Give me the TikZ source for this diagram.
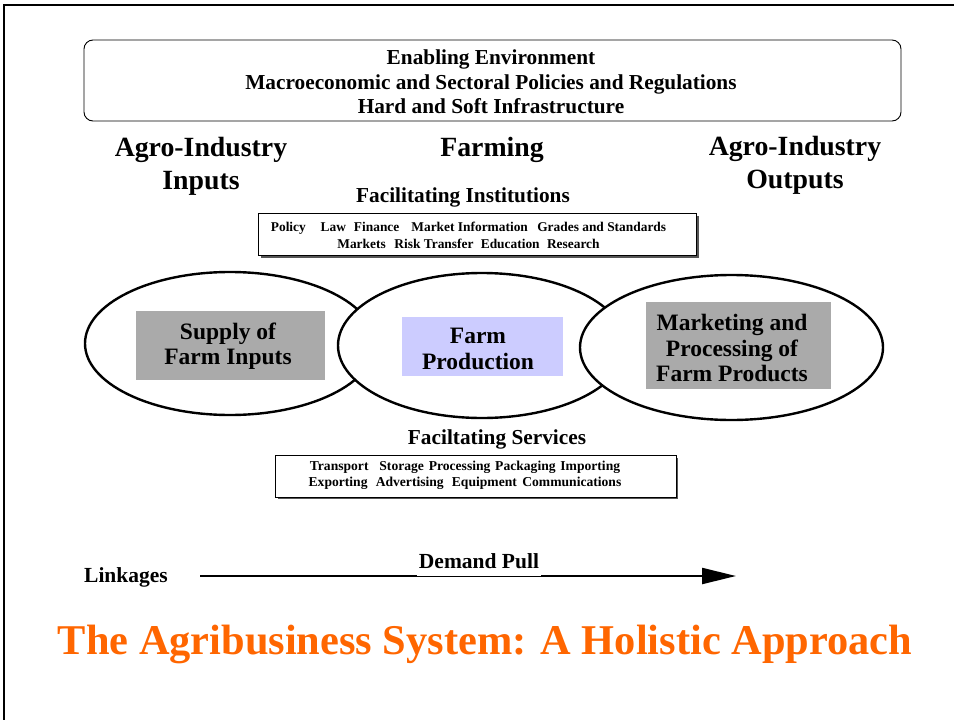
\documentclass[tikz,border=0pt]{standalone}
\usepackage{fontspec}
\setmainfont{Liberation Serif}
\usetikzlibrary{shapes.geometric,arrows.meta}
\definecolor{boxgray}{HTML}{AAAAAA}
\definecolor{lav}{HTML}{CCCCFF}
\definecolor{titleorange}{HTML}{FF6600}
\definecolor{shadowgray}{HTML}{555555}
\begin{document}
\begin{tikzpicture}[x=1pt,y=-1pt,
  bf/.style={font=\bfseries\fontsize{#1}{24}\selectfont},
  oval/.style={draw, ellipse, fill=white, line width=2.4pt, inner sep=0pt},
  inbox/.style={fill=#1, inner sep=0pt, align=center, font=\bfseries\fontsize{23.5}{25.5}\selectfont},
  listbox/.style={draw, fill=white, line width=0.9pt, inner sep=0pt, align=center},
  hdr/.style={align=center, font=\bfseries\fontsize{27.8}{33}\selectfont}
]
\useasboundingbox (0,0) rectangle (954,720);
\fill[white] (0,0) rectangle (954,720);
% frame
\draw[line width=1.5pt] (4,720) -- (4,5) -- (954,5);

% enabling environment
\node[draw, rounded corners=9pt, line width=0.9pt, minimum width=817pt, minimum height=81pt, inner sep=0pt] (env) at (492.5,80.5) {};
\node[align=center, font=\bfseries\fontsize{21.3}{24.5}\selectfont] (envtext) at (491,82)
  {Enabling Environment\\Macroeconomic and Sectoral Policies and Regulations\\Hard and Soft Infrastructure};

% headers
\node[hdr] (hin) at (201,166.5) {Agro-Industry\\Inputs};
\node[hdr] (hfarm) at (492,149.5) {Farming};
\node[hdr] (hout) at (795,165.5) {Agro-Industry\\Outputs};

% facilitating institutions
\node[bf=21.3] (fi) at (463,197) {Facilitating Institutions};
\fill[shadowgray] (261,216) rectangle (699,258);
\node[listbox, minimum width=438pt, minimum height=42pt] (fibox) at (477.5,234.5) {};
\node[align=center, font=\bfseries\fontsize{13.4}{17}\selectfont] (fitext) at (468.5,235)
  {Policy\hspace{1.1em}Law\hspace{0.6em}Finance\hspace{0.9em}Market Information\hspace{0.7em}Grades and Standards\\
   Markets\hspace{0.65em}Risk Transfer\hspace{0.55em}Education\hspace{0.55em}Research};

% ovals
\node[oval, minimum width=290pt, minimum height=143pt] (o1) at (230,343.5) {};
\node[oval, minimum width=288pt, minimum height=145pt] (o2) at (482,345.5) {};
\node[oval, minimum width=303pt, minimum height=145pt] (o3) at (731.5,347.5) {};

\node[inbox=boxgray, minimum width=189pt, minimum height=69pt] (b1) at (230.5,345.5) {};
\node[inbox=lav, minimum width=161pt, minimum height=59pt] (b2) at (482.5,346.5) {};
\node[inbox=boxgray, minimum width=185pt, minimum height=87pt] (b3) at (738.5,345.5) {};
\node[inbox=none] (t1) at (228,346) {Supply of\\Farm Inputs};
\node[inbox=none] (t2) at (478,349) {Farm\\Production};
\node[inbox=none] (t3) at (732,348) {Marketing and\\Processing of\\Farm Products};

% facilitating services
\node[bf=21.3] (fs) at (497,439) {Faciltating Services};
\fill[shadowgray] (278,458) rectangle (678,499);
\node[listbox, minimum width=401pt, minimum height=42pt] (fsbox) at (475.5,476) {};
\node[align=center, font=\bfseries\fontsize{13.6}{16}\selectfont] (fstext) at (465,475)
  {Transport\hspace{0.8em}Storage\hspace{0.35em}Processing\hspace{0.35em}Packaging\hspace{0.35em}Importing\\
   Exporting\hspace{0.6em}Advertising\hspace{0.6em}Equipment\hspace{0.4em}Communications};

% linkages
\node[bf=21.5] (lk) at (126,577) {Linkages};
\coordinate (as) at (200,576);
\coordinate (ae) at (736,576);
\draw[line width=2.2pt, -{Triangle[length=34pt,width=16pt]}] (as) -- (ae);
\node[bf=21.5, fill=white, text depth=0pt, inner xsep=2pt, inner ysep=7pt, anchor=south] (dp) at (479,576) {Demand Pull};

% title
\node[font=\bfseries\fontsize{42.4}{50}\selectfont, text=titleorange] (title) at (485,644) {The Agribusiness System: A Holistic Approach};
\end{tikzpicture}
\end{document}
